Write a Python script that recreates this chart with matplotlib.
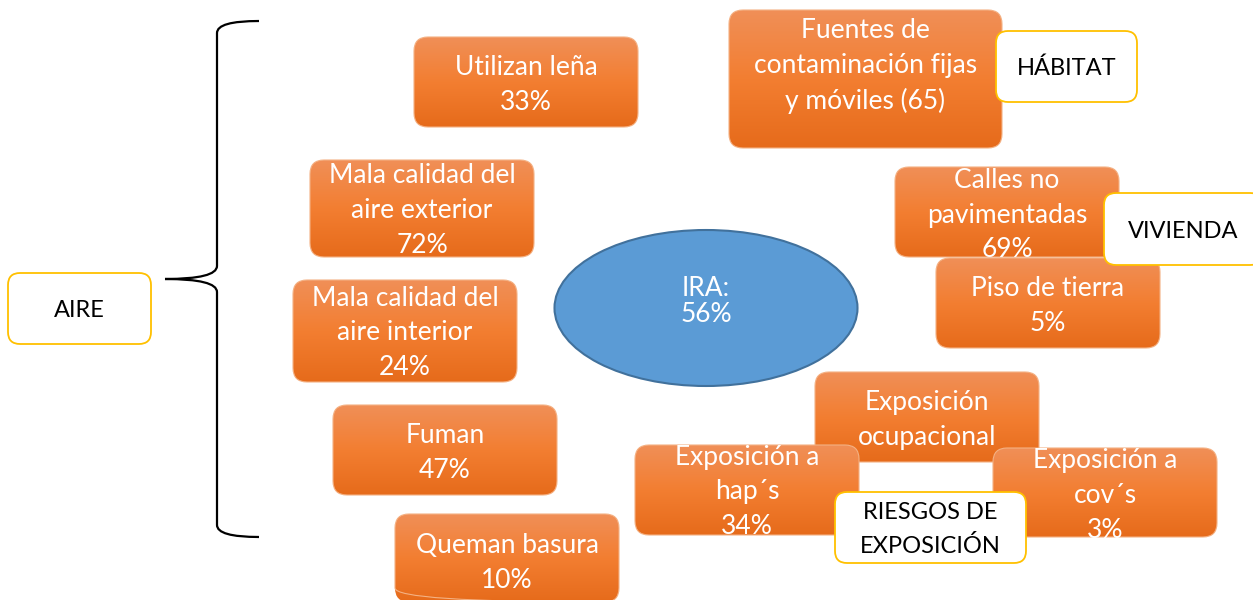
import matplotlib.pyplot as plt
import numpy as np
from matplotlib.patches import FancyBboxPatch, Ellipse, PathPatch
from matplotlib.path import Path
from matplotlib.colors import LinearSegmentedColormap

plt.rcParams['font.family'] = ['Lato', 'DejaVu Sans']

# Factors (orange boxes) and their reported values
factors = [
    "Utilizan leña", "Fuentes de\ncontaminación fijas\ny móviles", "Mala calidad del\naire exterior",
    "Calles no\npavimentadas", "Piso de tierra", "Mala calidad del\naire interior",
    "Fuman", "Queman basura", "Exposición\nocupacional",
    "Exposición a\nhap´s", "Exposición a\ncov´s",
]
values = ["33%", "(65)", "72%", "69%", "5%", "24%", "47%", "10%", "", "34%", "3%"]

# Group labels (white boxes)
groups = ["HÁBITAT", "VIVIENDA", "AIRE", "RIESGOS DE\nEXPOSICIÓN"]

center_label = "IRA:"
center_value = "56%"

# Layout in pixels: x0, y0, x1, y1, text y offset
factor_boxes = [
    (414, 37, 638, 127, 3),
    (729, 10, 1002, 148, -13),
    (310, 160, 534, 257, 2),
    (895, 167, 1119, 257, 3),
    (936, 258, 1160, 348, 3),
    (293, 280, 517, 382, 2),
    (333, 405, 557, 495, 3),
    (395, 514, 619, 602, 5),
    (815, 372, 1039, 462, 3),
    (635, 445, 859, 535, 2),
    (993, 448, 1217, 537, 3),
]
group_boxes = [
    (996, 31, 1137, 102),
    (1104, 193, 1262, 265),
    (8, 273, 151, 344),
    (835, 492, 1026, 563),
]

orange = LinearSegmentedColormap.from_list("og", ["#F08F57", "#F37E31", "#E66B1B"])
grad = np.linspace(0, 1, 100).reshape(-1, 1)

fig = plt.figure(figsize=(12.53, 6), dpi=100)
ax = fig.add_axes([0, 0, 1, 1])
ax.set_xlim(0, 1253)
ax.set_ylim(600, 0)
ax.axis('off')


def orange_box(i, z):
    x0, y0, x1, y1, dy = factor_boxes[i]
    p = FancyBboxPatch((x0, y0), x1 - x0, y1 - y0,
                       boxstyle="round,pad=0,rounding_size=14",
                       fc='none', ec='#F4B183', lw=0.8, zorder=z + 0.2)
    ax.add_patch(p)
    im = ax.imshow(grad, cmap=orange, extent=(x0, x1, y1, y0), origin='upper',
                   aspect='auto', zorder=z, interpolation='bilinear')
    im.set_clip_path(p)
    txt = factors[i]
    if values[i]:
        txt = txt + (" " if values[i].startswith("(") else "\n") + values[i]
    ax.text((x0 + x1) / 2, (y0 + y1) / 2 + dy, txt, color='white', fontsize=19,
            ha='center', va='center', linespacing=1.48, zorder=z + 0.3)


def white_box(i, z):
    x0, y0, x1, y1 = group_boxes[i]
    p = FancyBboxPatch((x0, y0), x1 - x0, y1 - y0,
                       boxstyle="round,pad=0,rounding_size=12",
                       fc='white', ec='#FFC000', lw=1.3, zorder=z)
    ax.add_patch(p)
    ax.text((x0 + x1) / 2, (y0 + y1) / 2 + 2, groups[i], color='black',
            fontsize=17, ha='center', va='center', linespacing=1.65, zorder=z + 0.3)


# draw order follows the original stacking
orange_box(0, 2)
orange_box(1, 2)
white_box(0, 3)
orange_box(2, 2)
orange_box(3, 2)
orange_box(4, 3)
white_box(1, 4)
orange_box(5, 2)
orange_box(6, 2)
orange_box(7, 2)
orange_box(8, 2)
orange_box(9, 3)
orange_box(10, 3)
white_box(3, 5)
white_box(2, 2)

# central ellipse
ax.add_patch(Ellipse((706, 308), 303, 156, fc='#5B9BD5', ec='#41719C', lw=1.5, zorder=2))
ax.text(706, 302, center_label + "\n" + center_value, color='white', fontsize=19,
        ha='center', va='center', linespacing=1.05, zorder=3)

# curly brace for AIRE
verts = [(259, 21), (217, 21), (217, 33),
         (217, 266), (217, 279), (165, 279),
         (217, 279), (217, 292),
         (217, 525), (217, 537), (259, 537)]
codes = [Path.MOVETO, Path.CURVE3, Path.CURVE3,
         Path.LINETO, Path.CURVE3, Path.CURVE3,
         Path.CURVE3, Path.CURVE3,
         Path.LINETO, Path.CURVE3, Path.CURVE3]
ax.add_patch(PathPatch(Path(verts, codes), fc='none', ec='black', lw=1.6, zorder=2))

fig.savefig("out.png", dpi=100)
